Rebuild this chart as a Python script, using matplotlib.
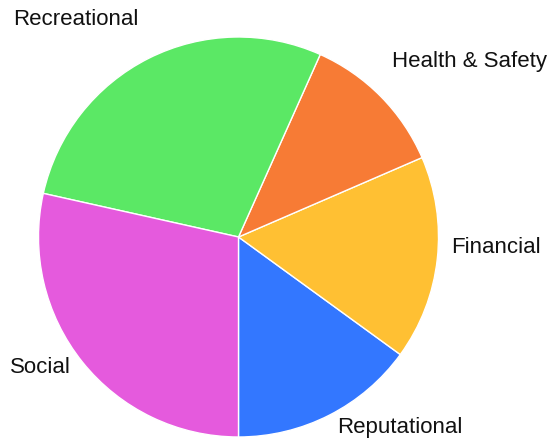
import numpy as np
import matplotlib.pyplot as plt

# Risk categories, drawn counterclockwise from the bottom
categories = ["Reputational", "Financial", "Health & Safety", "Recreational", "Social"]
values = [15.0, 16.5, 11.8, 28.2, 28.5]
colors = ["#3377ff", "#ffc033", "#f77b35", "#5be865", "#e55add"]

# how far out each label sits (in pie radii), plus a small nudge in pixels
label_dist = [1.07, 1.07, 1.19, 1.21, 1.06]
label_nudge = [(1, 0), (0, 13), (-16, 8), (9, 1), (-2, 2)]

plt.rcParams["font.family"] = ["Liberation Sans", "DejaVu Sans"]

fig = plt.figure(figsize=(5.57, 4.43), dpi=100)
ax = fig.add_axes([38.5 / 557, 6 / 443, 400 / 557, 400 / 443])

wedges, _ = ax.pie(values, colors=colors, startangle=-90, counterclock=True,
                   radius=1.0, wedgeprops=dict(edgecolor="white", linewidth=1))
ax.set_xlim(-1, 1)
ax.set_ylim(-1, 1)
ax.axis("off")

for w, name, d, (nx, ny) in zip(wedges, categories, label_dist, label_nudge):
    mid = np.deg2rad((w.theta1 + w.theta2) / 2)
    x, y = d * np.cos(mid), d * np.sin(mid)
    ax.annotate(name, (x, y), xytext=(nx * 0.72, ny * 0.72), textcoords="offset points",
                fontsize=16, color="#111111",
                ha="left" if x > 0 else "right", va="center", annotation_clip=False)

fig.savefig("out.png", dpi=100)
